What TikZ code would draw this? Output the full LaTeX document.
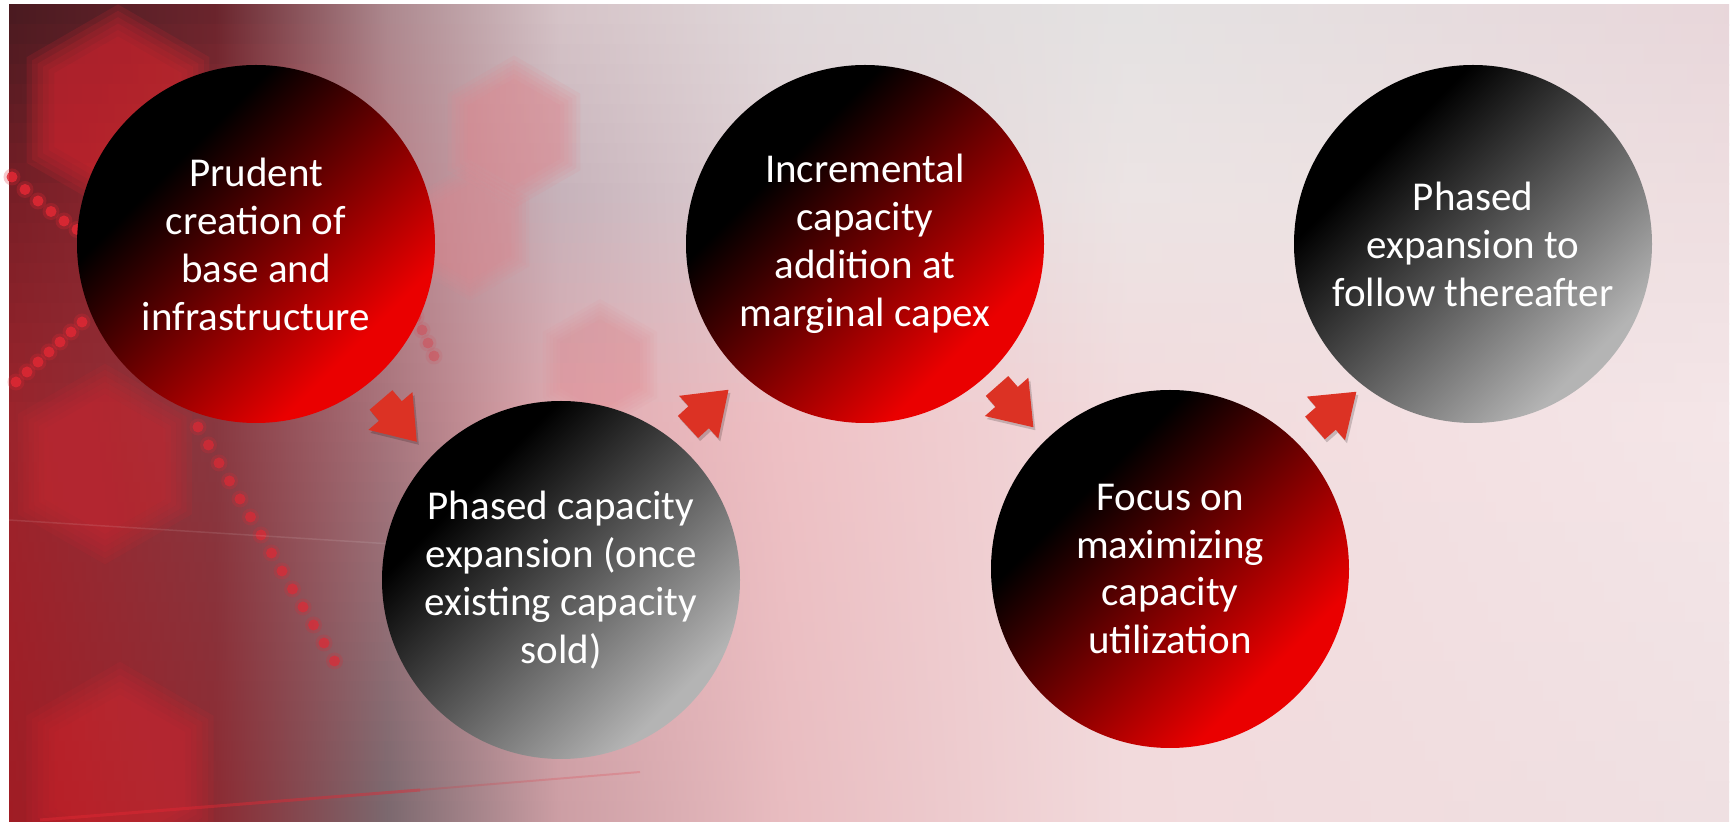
\documentclass[tikz,border=0pt]{standalone}
\usepackage{fontspec}
\setmainfont{Carlito}
\definecolor{arrowred}{RGB}{220,50,36}
\definecolor{ballred}{RGB}{234,0,0}
\definecolor{ballgray}{RGB}{180,180,180}
% background rows (columns at x = 9, 215, 387, 560, 783, 1127, 1729)
\definecolor{T1}{RGB}{72,26,32}\definecolor{T2}{RGB}{104,36,44}\definecolor{T3}{RGB}{172,136,142}\definecolor{T4}{RGB}{214,196,200}\definecolor{T5}{RGB}{224,216,218}\definecolor{T6}{RGB}{228,226,226}\definecolor{T7}{RGB}{232,214,218}
\definecolor{U1}{RGB}{120,30,38}\definecolor{U2}{RGB}{150,44,52}\definecolor{U3}{RGB}{184,128,136}\definecolor{U4}{RGB}{198,178,186}\definecolor{U5}{RGB}{224,208,212}\definecolor{U6}{RGB}{236,228,228}\definecolor{U7}{RGB}{238,222,224}
\definecolor{M1}{RGB}{156,36,44}\definecolor{M2}{RGB}{136,56,64}\definecolor{M3}{RGB}{168,116,124}\definecolor{M4}{RGB}{224,170,176}\definecolor{M5}{RGB}{238,192,196}\definecolor{M6}{RGB}{242,218,220}\definecolor{M7}{RGB}{244,230,232}
\definecolor{B1}{RGB}{160,28,36}\definecolor{B2}{RGB}{140,42,50}\definecolor{B3}{RGB}{122,104,110}\definecolor{B4}{RGB}{204,158,164}\definecolor{B5}{RGB}{232,188,192}\definecolor{B6}{RGB}{242,218,220}\definecolor{B7}{RGB}{239,224,226}
\colorlet{k1}{M1}\colorlet{k2}{M2}\colorlet{k3}{M3}\colorlet{k4}{M4}\colorlet{k5}{M5}\colorlet{k6}{M6}\colorlet{k7}{M7}
\definecolor{hexred}{RGB}{212,38,48}
\definecolor{hexpink}{RGB}{226,134,142}
\definecolor{dotred}{RGB}{226,40,52}
\pgfdeclareverticalshading{redgrad}{100bp}{color(0bp)=(ballred); color(30bp)=(ballred); color(66bp)=(black); color(100bp)=(black)}
\pgfdeclareverticalshading{graygrad}{100bp}{color(0bp)=(ballgray); color(27bp)=(ballgray); color(68bp)=(black); color(100bp)=(black)}
\pgfdeclarehorizontalshading[k1,k2,k3,k4,k5,k6,k7]{band}{100bp}{color(0bp)=(k1); color(25bp)=(k1); color(31bp)=(k2); color(36bp)=(k3); color(41bp)=(k4); color(47.5bp)=(k5); color(57.5bp)=(k6); color(75bp)=(k7); color(100bp)=(k7)}
\newcommand\hexa[5]{%
  \pgfmathsetmacro\oa{#5*0.2}%
  \foreach \sc in {1.32,1.24,1.16,1.08,1.0,0.92}{%
    \fill[#4, fill opacity=\oa] (#1,#2) +(30:#3*\sc) -- +(90:#3*\sc) -- +(150:#3*\sc) -- +(210:#3*\sc) -- +(270:#3*\sc) -- +(330:#3*\sc) -- cycle;}}
\newcommand\glowdot[3]{\fill[dotred, fill opacity=#3*0.3] (#1,#2) circle[radius=8.5];\fill[dotred, fill opacity=#3] (#1,#2) circle[radius=5.5];}
\tikzset{
  ballbase/.style={circle, minimum size=358pt, inner sep=0pt, shade, shading angle=45, text=white, align=center, font=\fontsize{41}{48}\selectfont},
  redcirc/.style={ballbase, shading=redgrad},
  graycirc/.style={ballbase, shading=graygrad},
  blockarrow/.pic={\path[pic actions] (0,15)--(14.5,15)--(14.5,29)--(55,0)--(14.5,-29)--(14.5,-15)--(0,-15)--cycle;},
  arrowbody/.style={fill=arrowred},
  arrowshadow/.style={fill=black, fill opacity=0.18},
}
\begin{document}
\begin{tikzpicture}[x=1pt,y=1pt]
\useasboundingbox (0,0) rectangle (1733,822);
\fill[white] (0,0) rectangle (1733,822);
% background photo approximation: bands of horizontal shadings
\foreach \i in {0,...,40}{
  \pgfmathsetmacro\ys{5+(\i+0.5)*19.9268}
  \pgfmathtruncatemacro\seg{\ys<200 ? 0 : (\ys<420 ? 1 : 2)}
  \ifcase\seg
    \pgfmathtruncatemacro\p{(\ys-5)/195*100}
    \colorlet{k1}{U1!\p!T1}\colorlet{k2}{U2!\p!T2}\colorlet{k3}{U3!\p!T3}\colorlet{k4}{U4!\p!T4}\colorlet{k5}{U5!\p!T5}\colorlet{k6}{U6!\p!T6}\colorlet{k7}{U7!\p!T7}
  \or
    \pgfmathtruncatemacro\p{(\ys-200)/220*100}
    \colorlet{k1}{M1!\p!U1}\colorlet{k2}{M2!\p!U2}\colorlet{k3}{M3!\p!U3}\colorlet{k4}{M4!\p!U4}\colorlet{k5}{M5!\p!U5}\colorlet{k6}{M6!\p!U6}\colorlet{k7}{M7!\p!U7}
  \or
    \pgfmathtruncatemacro\p{(\ys-420)/402*100}
    \colorlet{k1}{B1!\p!M1}\colorlet{k2}{B2!\p!M2}\colorlet{k3}{B3!\p!M3}\colorlet{k4}{B4!\p!M4}\colorlet{k5}{B5!\p!M5}\colorlet{k6}{B6!\p!M6}\colorlet{k7}{B7!\p!M7}
  \fi
  \pgfmathsetmacro\ytop{min(817,817-\i*19.9268+0.6)}
  \pgfmathsetmacro\ybot{max(0,817-(\i+1)*19.9268-0.6)}
  \shade[shading=band] (9,\ybot) rectangle (1729,\ytop);
}
% blurred hexagons
\hexa{118}{712}{80}{hexred}{0.85}
\hexa{514}{690}{58}{hexpink}{0.6}
\hexa{470}{590}{52}{hexpink}{0.5}
\hexa{105}{358}{76}{hexred}{0.55}
\hexa{120}{52}{82}{hexred}{0.6}
\hexa{600}{457}{50}{hexpink}{0.4}
% dot chains
\foreach \t in {0,1,...,6}{\glowdot{{12+\t*13}}{{645-\t*13+0.5*\t*\t}}{0.85}}
\foreach \t in {0,1,...,6}{\glowdot{{16+\t*11}}{{440+\t*10}}{0.8}}
\foreach \t in {0,1,...,13}{\glowdot{{198+\t*10.5}}{{395-\t*18}}{0.65}}
\foreach \t in {0,1,...,4}{\glowdot{{410+\t*6}}{{518-\t*13}}{0.3}}
% faint streaks
\draw[white, line width=1.5pt, opacity=0.1] (9,302) -- (520,270);
\draw[dotred, line width=3pt, opacity=0.45] (40,2) -- (420,32);
\draw[dotred, line width=2pt, opacity=0.2] (420,32) -- (640,50);
% circles
\node[redcirc]  (c1) at (256,578) {Prudent\\creation of\\base and\\infrastructure};
\node[graycirc] (c2) at (561,242) {Phased capacity\\expansion (once\\existing capacity\\sold)};
\node[redcirc]  (c3) at (865,578) {Incremental\\capacity\\addition at\\marginal capex};
\node[redcirc]  (c4) at (1170,253) {Focus on\\maximizing\\capacity\\utilization};
\node[graycirc] (c5) at (1473,578) {Phased\\expansion to\\follow thereafter};
% block arrows
\path (383,419) pic[rotate=-49.4, arrowshadow]{blockarrow};
\path (381,422) pic[rotate=-49.4, arrowbody]{blockarrow};
\path (690,392) pic[rotate=42.6, arrowshadow]{blockarrow};
\path (688,395) pic[rotate=42.6, arrowbody]{blockarrow};
\path (999,433) pic[rotate=-48.6, arrowshadow]{blockarrow};
\path (997,436) pic[rotate=-48.6, arrowbody]{blockarrow};
\path (1317,391) pic[rotate=41.2, arrowshadow]{blockarrow};
\path (1315,394) pic[rotate=41.2, arrowbody]{blockarrow};
\end{tikzpicture}
\end{document}
